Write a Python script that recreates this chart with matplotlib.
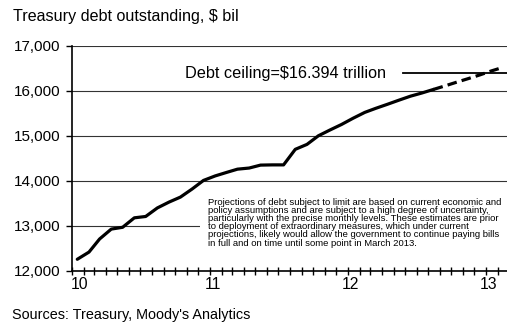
import matplotlib
matplotlib.use("Agg")
import matplotlib.pyplot as plt
import matplotlib.dates as mdates
import matplotlib.transforms as mtransforms
import pandas as pd

plt.rcParams["font.family"] = ["Liberation Sans", "DejaVu Sans"]

# Monthly Treasury debt subject to limit, $ bil (Jan 2010 onward)
months = pd.date_range("2010-01-01", periods=38, freq="MS") + pd.Timedelta(days=14)
actual = [12260, 12420, 12710, 12930, 12970, 13180, 13210, 13400, 13530, 13640,
          13820, 14010, 14110, 14190, 14260, 14285, 14350, 14355, 14355, 14700,
          14810, 15000, 15130, 15250, 15390, 15520, 15610, 15700, 15790, 15880,
          15950, 16030]
projected = [16030, 16110, 16190, 16270, 16350, 16440, 16520]
debt_ceiling = 16394

y_ticks = [12000, 13000, 14000, 15000, 16000, 17000]
year_labels = ["10", "11", "12", "13"]

subtitle = "Treasury debt outstanding, $ bil"
ceiling_label = "Debt ceiling=$16.394 trillion"
note = ("Projections of debt subject to limit are based on current economic and\n"
        "policy assumptions and are subject to a high degree of uncertainty,\n"
        "particularly with the precise monthly levels. These estimates are prior\n"
        "to deployment of extraordinary measures, which under current\n"
        "projections, likely would allow the government to continue paying bills\n"
        "in full and on time until some point in March 2013.")
source = "Sources: Treasury, Moody's Analytics"

W, H = 507, 324
fig = plt.figure(figsize=(W / 100, H / 100), dpi=100)
ax = fig.add_axes([72 / W, (H - 271) / H, (W - 72) / W, (271 - 45.7) / H])

# grid lines
for v in y_ticks:
    ax.axhline(v, color="#333333", lw=0.8, zorder=1)

n_act = len(actual)
ax.plot(months[:n_act], actual, color="black", lw=2.3, solid_joinstyle="round",
        solid_capstyle="round", zorder=4)
ax.plot(months[n_act - 1:n_act - 1 + len(projected)], projected, color="black",
        lw=2.3, dashes=(3.0, 1.6), zorder=4)

# debt ceiling marker line
x0 = pd.Timestamp("2012-05-27")
x1 = pd.Timestamp("2013-03-01")
ax.plot([x0, x1], [debt_ceiling, debt_ceiling], color="black", lw=1.3, zorder=3)

ax.set_ylim(12000, 17000)
start = pd.Timestamp("2010-01-01")
end = start + pd.Timedelta(days=(W - 72) / 11.5 * 30.44)
ax.set_xlim(start, end)

ax.set_yticks(y_ticks)
ax.set_yticklabels([f"{v:,}" for v in y_ticks])
year_pos = [pd.Timestamp(f"20{y}-01-01") for y in year_labels]
ax.set_xticks(year_pos)
ax.set_xticklabels(year_labels)
ax.xaxis.set_minor_locator(mdates.MonthLocator())

for side in ["top", "right"]:
    ax.spines[side].set_visible(False)
ax.spines["left"].set_linewidth(1.2)
ax.spines["bottom"].set_linewidth(1.2)

ax.tick_params(axis="y", direction="out", length=4, width=1, pad=4.5,
               labelsize=11, colors="black")
ax.tick_params(axis="x", which="both", direction="inout", length=6, width=1,
               colors="black")
ax.tick_params(axis="x", which="major", pad=1, labelsize=11.3)

# nudge year labels slightly to the right; first one sits just inside the axis
for i, lbl in enumerate(ax.get_xticklabels()):
    dx = 8 if i == 0 else 3
    lbl.set_transform(lbl.get_transform() +
                      mtransforms.ScaledTranslation(dx / 100, 0, fig.dpi_scale_trans))

ax.text(pd.Timestamp("2010-10-28"), debt_ceiling, ceiling_label, fontsize=11.7,
        va="center", ha="left", zorder=5)

ax.text(0.313, 0.325, note, transform=ax.transAxes, fontsize=6.8, va="top",
        ha="left", linespacing=0.88, zorder=5,
        bbox=dict(facecolor="white", edgecolor="none", pad=6))

fig.text(13 / W, 1 - 17 / H, subtitle, fontsize=11.6, va="center", ha="left")
fig.text(12 / W, 1 - 315 / H, source, fontsize=10.4, va="center", ha="left")

fig.savefig("out.png", dpi=100)
